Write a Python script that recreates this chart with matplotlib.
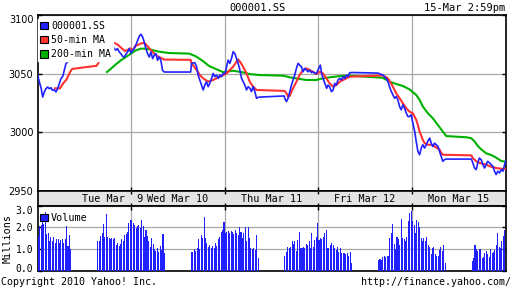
import matplotlib
matplotlib.use("Agg")
import matplotlib.pyplot as plt
from matplotlib.patches import Patch
from matplotlib.ticker import FixedLocator, FormatStrFormatter
from matplotlib.transforms import ScaledTranslation

# --- data: time in trading days from Tue Mar 9 09:30 (1.0 = one 09:30-15:00 day) ---
price_t = [0.00, 0.02, 0.04, 0.055, 0.073, 0.09, 0.108, 0.126, 0.144, 0.16, 0.178, 0.197,
           0.215, 0.233, 0.25, 0.27, 0.286, 0.304, 0.32, 0.34, 0.355, 0.364, 0.636, 0.70,
           0.713, 0.73, 0.748, 0.766, 0.784, 0.80, 0.82, 0.838, 0.855, 0.873, 0.89, 0.909,
           0.927, 0.944, 0.962, 0.98, 0.998,
           1.016, 1.034, 1.05, 1.07, 1.087, 1.105, 1.123, 1.14, 1.158, 1.176, 1.194, 1.212,
           1.23, 1.247, 1.265, 1.283, 1.30, 1.318, 1.336, 1.354, 1.636, 1.646, 1.68, 1.70,
           1.716, 1.734, 1.752, 1.77, 1.788, 1.805, 1.823, 1.84, 1.86, 1.877, 1.895, 1.913,
           1.93, 1.948, 1.966, 1.984,
           2.004, 2.02, 2.037, 2.055, 2.073, 2.09, 2.108, 2.126, 2.144, 2.162, 2.18, 2.198,
           2.215, 2.233, 2.25, 2.27, 2.286, 2.304, 2.322, 2.34, 2.364, 2.636, 2.641, 2.66,
           2.677, 2.695, 2.713, 2.73, 2.748, 2.766, 2.784, 2.80, 2.82, 2.837, 2.855, 2.873,
           2.89, 2.909, 2.926, 2.944, 2.962, 2.98, 2.997,
           3.022, 3.036, 3.05, 3.07, 3.09, 3.104, 3.12, 3.14, 3.158, 3.175, 3.193, 3.21,
           3.23, 3.247, 3.265, 3.283, 3.30, 3.318, 3.335, 3.364, 3.636, 3.69, 3.708, 3.726,
           3.744, 3.76, 3.78, 3.797, 3.815, 3.833, 3.85, 3.868, 3.886, 3.904, 3.922, 3.94,
           3.957, 3.975, 3.993, 4.01,
           4.03, 4.046, 4.064, 4.082, 4.10, 4.117, 4.135, 4.153, 4.17, 4.19, 4.206, 4.224,
           4.242, 4.26, 4.278, 4.295, 4.313, 4.33, 4.349, 4.364, 4.636, 4.651, 4.669, 4.687,
           4.704, 4.72, 4.74, 4.758, 4.776, 4.794, 4.81, 4.83, 4.847, 4.865, 4.883, 4.90,
           4.918, 4.936, 4.954, 4.972, 4.99, 5.0]
price_v = [3049.4, 3042.9, 3037.2, 3030.1, 3034.4, 3037.2, 3038.6, 3037.2, 3038.0, 3035.8, 3036.4, 3034.4,
           3037.2, 3041.5, 3045.7, 3047.7, 3052.8, 3058.5, 3059.9, 3061.9, 3066.0, 3074.0, 3075.0, 3076.0,
           3074.2, 3075.7, 3073.4, 3075.1, 3072.9, 3074.2, 3071.4, 3070.0, 3071.4, 3068.5, 3067.1, 3064.8,
           3064.2, 3066.5, 3068.5, 3071.4, 3067.6,
           3070.0, 3071.4, 3074.2, 3078.5, 3081.9, 3083.6, 3081.3, 3077.0, 3071.4, 3067.1, 3064.2, 3068.5,
           3062.8, 3065.6, 3067.1, 3061.4, 3064.2, 3061.4, 3052.8, 3051.4, 3051.4, 3058.8, 3059.4, 3055.9,
           3048.8, 3044.6, 3040.3, 3036.1, 3040.3, 3043.1, 3038.9, 3041.7, 3046.0, 3050.2, 3047.4, 3048.8,
           3046.0, 3048.8, 3047.4, 3050.2,
           3050.2, 3055.9, 3061.6, 3058.8, 3063.0, 3068.7, 3067.2, 3063.0, 3058.8, 3053.1, 3046.0, 3043.1,
           3040.3, 3036.1, 3038.9, 3037.5, 3034.7, 3038.9, 3034.7, 3029.0, 3030.0, 3031.0, 3029.0, 3026.2,
           3029.0, 3034.7, 3040.3, 3044.6, 3048.8, 3054.5, 3058.8, 3057.3, 3055.9, 3051.6, 3054.5, 3053.1,
           3051.6, 3053.1, 3050.9, 3051.6, 3050.2, 3050.2, 3053.1,
           3057.3, 3050.2, 3046.0, 3041.7, 3037.5, 3040.3, 3038.9, 3034.7, 3036.1, 3041.7, 3040.3, 3044.6,
           3046.0, 3044.6, 3047.4, 3046.0, 3048.8, 3047.4, 3050.8, 3051.0, 3050.5, 3048.8, 3047.4, 3046.0,
           3043.2, 3039.0, 3034.8, 3031.9, 3029.0, 3030.5, 3027.7, 3022.0, 3019.2, 3023.4, 3020.6, 3016.4,
           3013.5, 3013.5, 3015.0, 3007.9,
           3000.8, 2992.3, 2983.8, 2980.9, 2986.6, 2989.4, 2986.6, 2989.4, 2992.3, 2995.1, 2990.8, 2988.0,
           2990.8, 2989.4, 2988.0, 2983.8, 2979.5, 2975.3, 2976.7, 2977.2, 2977.2, 2973.9, 2969.6, 2968.2,
           2973.9, 2978.1, 2976.7, 2972.5, 2969.6, 2972.5, 2975.3, 2973.9, 2972.5, 2971.1, 2966.8, 2964.0,
           2966.8, 2965.4, 2968.2, 2966.8, 2972.5, 2975.3]

ma50_t = [0.187, 0.24, 0.275, 0.31, 0.35, 0.37, 0.46, 0.56, 0.63, 0.65, 0.667, 0.685, 0.703,
          0.72, 0.774, 0.83, 0.862, 0.90, 0.934, 0.97, 0.987,
          1.016, 1.044, 1.105, 1.14, 1.176, 1.211, 1.247, 1.283, 1.318, 1.353, 1.636, 1.646,
          1.70, 1.734, 1.77, 1.823, 1.876, 1.948, 1.983,
          2.02, 2.054, 2.09, 2.126, 2.143, 2.17, 2.196, 2.233, 2.268, 2.303, 2.34, 2.641,
          2.66, 2.677, 2.695, 2.713, 2.73, 2.766, 2.80, 2.837, 2.873, 2.908, 2.943, 2.98,
          3.015, 3.05, 3.086, 3.122, 3.157, 3.193, 3.228, 3.264, 3.30, 3.335, 3.69, 3.744,
          3.797, 3.833, 3.869, 3.904, 3.94, 3.975, 4.011,
          4.047, 4.064, 4.082, 4.117, 4.135, 4.171, 4.207, 4.242, 4.296, 4.314, 4.331, 4.634,
          4.651, 4.687, 4.723, 4.794, 4.829, 4.90, 4.971, 5.0]
ma50_v = [3037.5, 3037.5, 3041.8, 3045.0, 3051.7, 3054.0, 3055.0, 3056.0, 3056.7, 3059.0, 3063.0, 3068.7, 3075.9,
          3077.0, 3077.8, 3075.9, 3074.4, 3071.6, 3069.3, 3070.5, 3071.6,
          3070.0, 3073.5, 3075.7, 3076.3, 3073.4, 3070.0, 3067.1, 3064.8, 3063.5, 3062.0, 3061.8, 3058.8,
          3053.1, 3048.8, 3046.0, 3043.2, 3044.6, 3047.4, 3048.8,
          3050.2, 3053.1, 3055.9, 3060.2, 3062.2, 3059.5, 3055.9, 3050.2, 3043.1, 3038.9, 3036.1, 3035.3,
          3033.3, 3030.4, 3031.0, 3034.7, 3037.5, 3043.1, 3048.8, 3053.1, 3054.5, 3053.1, 3051.6, 3049.6,
          3051.6, 3050.2, 3046.0, 3041.7, 3038.9, 3040.3, 3043.1, 3044.6, 3046.0, 3047.4, 3048.5, 3046.0,
          3038.9, 3033.2, 3029.0, 3024.7, 3020.5, 3017.6, 3016.2,
          3010.5, 3006.3, 3000.6, 2993.5, 2990.8, 2989.4, 2989.4, 2988.0, 2985.2, 2982.4, 2980.9, 2980.4,
          2978.1, 2975.3, 2973.9, 2972.5, 2971.1, 2969.6, 2968.8, 2968.8]

ma200_t = [0.742, 0.784, 0.838, 0.891, 0.944, 0.998, 1.051, 1.105, 1.158, 1.211, 1.265, 1.318,
           1.407, 1.62, 1.692, 1.763, 1.834, 1.905, 1.983, 2.09, 2.196, 2.268, 2.375, 2.623,
           2.695, 2.801, 2.873, 2.98, 3.015, 3.122, 3.228, 3.335, 3.687, 3.762, 3.833, 3.904,
           3.975, 4.047, 4.082, 4.117, 4.171, 4.224, 4.277, 4.331, 4.367, 4.581, 4.634, 4.669,
           4.704, 4.741, 4.794, 4.847, 4.901, 4.954, 5.0]
ma200_v = [3051.4, 3054.2, 3058.0, 3061.4, 3064.2, 3067.1, 3069.9, 3071.3, 3071.3, 3070.5, 3069.3, 3068.5,
           3067.6, 3067.1, 3064.8, 3061.0, 3056.5, 3054.0, 3051.3, 3052.5, 3051.1, 3049.6, 3048.8, 3048.3,
           3046.9, 3045.5, 3044.6, 3044.6, 3045.5, 3046.9, 3047.9, 3048.3, 3046.5, 3043.2, 3041.2, 3039.5,
           3036.6, 3031.8, 3027.7, 3022.0, 3016.2, 3012.0, 3006.3, 3000.6, 2996.8, 2995.8, 2995.0, 2992.3,
           2988.4, 2985.5, 2982.1, 2980.7, 2978.4, 2975.6, 2975.0]

# 5-minute volume (millions): 24 morning bars then 24 afternoon bars per day
vol_mar09 = [1.6, 2.05, 2.1, 2.6, 2.15, 2.7, 1.7, 1.75, 1.35, 1.55, 1.35, 1.55, 1.3, 1.45, 1.45, 1.3,
             1.4, 1.45, 1.3, 1.45, 2.05, 1.15, 1.65, 1.0,
             1.35, 1.35, 1.6, 1.75, 2.15, 1.55, 2.6, 1.55, 1.5, 1.45, 1.5, 1.45, 1.5, 1.2, 1.3, 1.15,
             1.25, 1.45, 1.35, 1.65, 1.7, 1.8, 2.2, 2.35]
vol_mar10 = [2.35, 2.2, 2.1, 1.95, 2.05, 2.1, 1.95, 2.35, 2.05, 1.55, 1.9, 1.6, 1.35, 1.1, 1.5, 1.25,
             1.0, 0.9, 1.05, 0.85, 1.15, 0.95, 1.7, 0.8,
             0.85, 0.85, 1.0, 0.9, 1.05, 1.45, 1.0, 1.65, 1.5, 2.5, 1.5, 1.3, 1.1, 1.2, 1.05, 1.15,
             1.05, 1.3, 1.15, 1.45, 1.55, 1.8, 1.9, 2.25]
vol_mar11 = [1.75, 1.8, 1.85, 1.75, 1.85, 1.8, 1.7, 1.9, 1.75, 1.65, 2.0, 1.8, 1.5, 1.75, 2.0, 1.35,
             2.0, 1.5, 1.05, 1.0, 1.05, 0.95, 1.65, 0.6,
             0.7, 0.85, 1.1, 1.05, 1.1, 1.35, 1.25, 1.35, 0.9, 1.4, 1.8, 1.05, 1.05, 1.1, 1.05, 1.25,
             1.2, 1.35, 1.05, 1.75, 1.1, 1.4, 1.55, 2.2]
vol_mar12 = [1.4, 1.5, 1.45, 1.55, 1.75, 1.9, 1.05, 1.05, 1.2, 1.3, 1.2, 1.05, 0.95, 1.1, 0.85, 1.05,
             0.8, 0.8, 0.8, 0.75, 0.8, 0.7, 0.85, 0.35,
             0.5, 0.55, 0.5, 0.65, 0.7, 0.65, 0.7, 0.7, 1.5, 1.75, 2.15, 1.25, 1.0, 1.55, 1.45, 1.2,
             2.4, 1.5, 1.45, 1.35, 1.55, 2.3, 2.65, 2.75]
vol_mar15 = [2.3, 2.1, 1.75, 2.35, 2.25, 2.0, 1.5, 1.35, 1.5, 1.35, 1.55, 1.2, 1.1, 0.75, 1.05, 1.1,
             0.75, 0.7, 0.7, 0.95, 1.1, 0.9, 1.2, 0.35,
             0.45, 0.6, 1.2, 1.0, 0.9, 1.0, 1.0, 0.6, 0.65, 0.8, 0.9, 0.75, 0.65, 1.0, 0.8, 0.85,
             0.95, 1.2, 1.75, 1.1, 1.05, 1.35, 1.6, 1.9]

day_labels = ["Tue Mar  9", "Wed Mar 10", "Thu Mar 11", "Fri Mar 12", "Mon Mar 15"]
day_label_pos = [0.80, 1.5, 2.5, 3.5, 4.5]
price_ticks = [2950, 3000, 3050, 3100]
volume_ticks = [0.0, 1.0, 2.0, 3.0]

BLUE = "#2121ff"
RED = "#ff3131"
GREEN = "#00b000"
GRID = "#a8a8a8"
MONO = "DejaVu Sans Mono"

W, H = 512, 288
fig = plt.figure(figsize=(W / 100, H / 100), dpi=100)
fig.patch.set_facecolor("white")

def box(x0, y0, x1, y1):
    return [x0 / W, 1 - y1 / H, (x1 - x0) / W, (y1 - y0) / H]

def nudge(tick, dy_px):
    # shift a tick label up (+) or down (-) by a few pixels
    lbl = tick.label1
    lbl.set_transform(lbl.get_transform() + ScaledTranslation(0, dy_px / 100, fig.dpi_scale_trans))

ax = fig.add_axes(box(37.5, 15, 505.5, 191))
band = fig.add_axes(box(37.5, 191, 505.5, 205.7))
vax = fig.add_axes(box(37.5, 205.7, 505.5, 270.7))

day_edges = [1, 2, 3, 4]

# --- price panel ---
ax.plot(ma200_t, ma200_v, color=GREEN, lw=1.5, zorder=3)
ax.plot(ma50_t, ma50_v, color=RED, lw=1.5, zorder=4)
ax.plot(price_t, price_v, color=BLUE, lw=1.2, zorder=5)
ax.set_xlim(0, 5)
ax.set_ylim(2950, 3100)
ax.yaxis.set_major_locator(FixedLocator(price_ticks))
ax.xaxis.set_major_locator(FixedLocator(day_edges))
ax.grid(True, color=GRID, lw=0.9)
ax.set_axisbelow(True)
ax.tick_params(axis="y", direction="in", length=3, width=1, left=True, right=True,
               labelsize=7, pad=3)
ax.tick_params(axis="x", direction="in", length=3, width=1, bottom=True, top=False,
               labelbottom=False)
for s in ax.spines.values():
    s.set_linewidth(1.2)
nudge(ax.yaxis.get_major_ticks()[-1], -4)

handles = [Patch(facecolor=c, edgecolor="black", lw=0.8) for c in (BLUE, RED, GREEN)]
leg = ax.legend(handles, ["000001.SS", "50-min MA", "200-min MA"], loc="upper left",
                bbox_to_anchor=(0.0, 0.985), borderaxespad=0.1, borderpad=0.2,
                handlelength=0.75, handleheight=0.75, handletextpad=0.35, labelspacing=0.45,
                prop={"family": MONO, "size": 7.1}, frameon=True, fancybox=False)
leg.get_frame().set_facecolor("white")
leg.get_frame().set_edgecolor("white")
leg.get_frame().set_alpha(1)
leg.set_zorder(10)

# --- date band ---
band.set_facecolor("#e4e4e4")
band.set_xlim(0, 5)
band.set_ylim(0, 1)
band.set_yticks([])
band.xaxis.set_major_locator(FixedLocator(day_edges))
band.tick_params(axis="x", direction="in", length=2.5, width=1, top=True, bottom=True,
                 labelbottom=False)
for lab, pos in zip(day_labels, day_label_pos):
    band.text(pos, 0.45, lab, ha="center", va="center", family=MONO, fontsize=7.3)
for s in band.spines.values():
    s.set_linewidth(1.2)

# --- volume panel ---
volume_days = [vol_mar09, vol_mar10, vol_mar11, vol_mar12, vol_mar15]
bar_x, bar_h = [], []
for d, vols in enumerate(volume_days):
    for i, v in enumerate(vols):
        minute = (i + 0.5) * 5 if i < 24 else 210 + (i - 24 + 0.5) * 5
        bar_x.append(d + minute / 330)
        bar_h.append(v)
vax.bar(bar_x, bar_h, width=0.011, color=BLUE, linewidth=0, zorder=3)
vax.set_xlim(0, 5)
vax.set_ylim(0, 3)
vax.yaxis.set_major_locator(FixedLocator(volume_ticks))
vax.yaxis.set_major_formatter(FormatStrFormatter("%.1f"))
vax.xaxis.set_major_locator(FixedLocator(day_edges))
vax.grid(True, color=GRID, lw=0.9)
vax.set_axisbelow(True)
vax.tick_params(axis="y", direction="in", length=3, width=1, left=True, right=True,
                labelsize=7, pad=3)
vax.tick_params(axis="x", direction="in", length=3, width=1, bottom=False, top=True,
                labelbottom=False)
for lbl in vax.get_yticklabels():
    lbl.set_family(MONO)
vticks = vax.yaxis.get_major_ticks()
nudge(vticks[0], 3)
nudge(vticks[-1], -4)
vax.set_ylabel("Millions", family=MONO, fontsize=7.3, labelpad=2)
for s in vax.spines.values():
    s.set_linewidth(1.2)
vleg = vax.legend([Patch(facecolor=BLUE, edgecolor="black", lw=0.8)], ["Volume"],
                  loc="upper left", bbox_to_anchor=(0.0, 0.93), borderaxespad=0.1,
                  borderpad=0.15, handlelength=0.75, handleheight=0.75, handletextpad=0.35,
                  prop={"family": MONO, "size": 7.3}, frameon=False)

# --- header / footer text ---
fig.text(257 / W, 1 - 8 / H, "000001.SS", ha="center", va="center", family=MONO, fontsize=7.5)
fig.text(505 / W, 1 - 8 / H, "15-Mar 2:59pm", ha="right", va="center", family=MONO, fontsize=7.5)
fig.text(1 / W, 1 - 282 / H, "Copyright 2010 Yahoo! Inc.", ha="left", va="center",
         family=MONO, fontsize=7.2)
fig.text(511 / W, 1 - 282 / H, "http://finance.yahoo.com/", ha="right", va="center",
         family=MONO, fontsize=7.2)

fig.savefig("out.png", dpi=100, facecolor="white")
